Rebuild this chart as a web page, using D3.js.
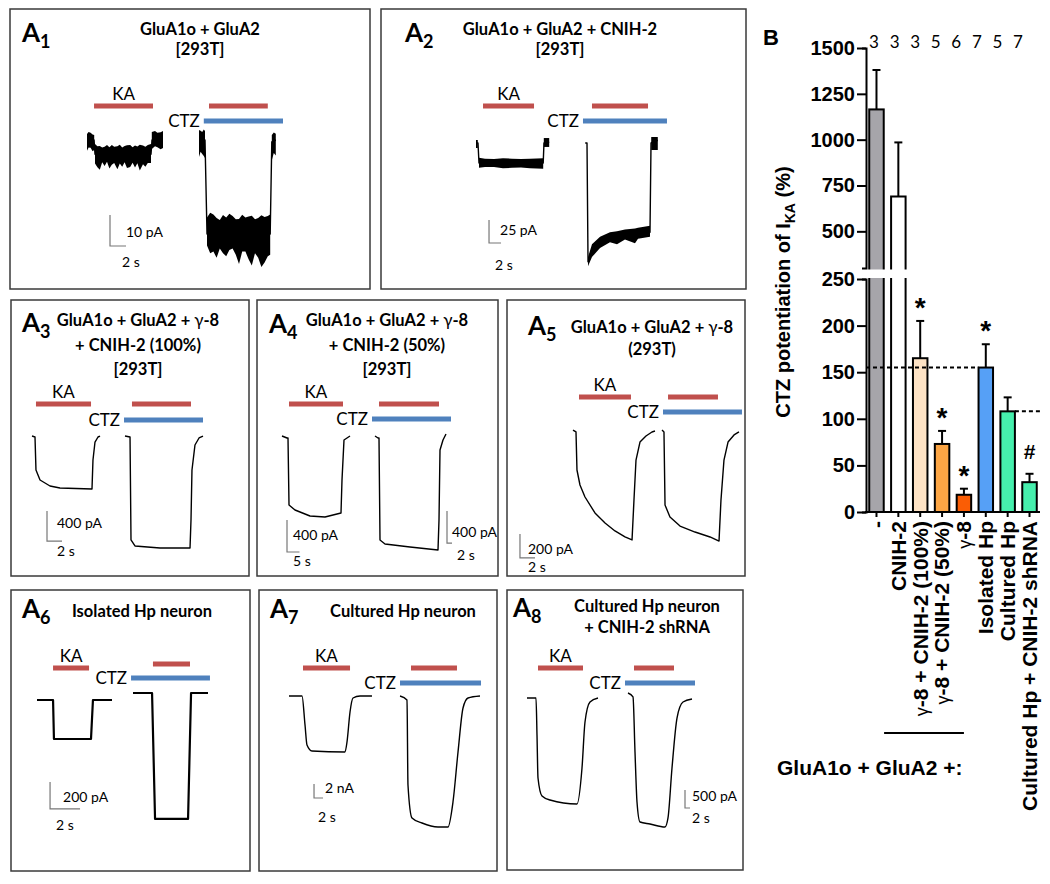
<!DOCTYPE html>
<meta charset="utf-8">
<style>
  body { margin: 0; background: #fff; }
  svg { font-family: Lato, "Open Sans", sans-serif; }
  .box { fill: none; stroke: #3a3a3a; stroke-width: 1.5; }
  .trace { fill: none; stroke: #000; stroke-width: 1.4; stroke-linejoin: round; }
  .noise { fill: #000; stroke: none; }
  .ka { stroke: #c0504d; stroke-width: 5; }
  .ctz { stroke: #4f81bd; stroke-width: 5; }
  .scalebar { fill: none; stroke: #777; stroke-width: 1.2; }
  .plabel { font-weight: bold; font-size: 26px; }
  .title { font-weight: bold; font-size: 16.5px; text-anchor: middle; }
  .drug { font-size: 17px; }
  .sblab { font-size: 14px; }
  .bchart text { font-family: "Liberation Sans", Arial, sans-serif; fill: #000; }
  .axis path, .axis line { stroke: #000; stroke-width: 2; }
  .axis text { font-size: 20px; font-weight: bold; }
</style>
<body>
<script src="https://cdn.jsdelivr.net/npm/d3@7"></script>
<script>

    // ---- panel B : CTZ potentiation (%) ----
    var groups = ["-", "CNIH-2", "γ-8 + CNIH-2 (100%)", "γ-8 + CNIH-2 (50%)", "γ-8",
                  "Isolated Hp", "Cultured Hp", "Cultured Hp + CNIH-2 shRNA"];
    var potMean = [1165, 690, 165, 73, 18.5, 155, 108, 32];
    var potSem = [215, 295, 40, 14, 6.5, 25, 15, 9];
    var nCells = [3, 3, 3, 5, 6, 7, 5, 7];
    var sigMarks = ["", "", "*", "*", "*", "*", "", "#"];
    var lowTicks = [0, 50, 100, 150, 200, 250];
    var highTicks = [500, 750, 1000, 1250, 1500];
    var barFill = ["#a6a5aa", "#ffffff", "#fee3c5", "#fca544", "#fa5d05", "#56a0f6", "#46efad", "#46efad"];

    // ---- panel A traces : [time (s), current (pA)] ----
    var a1KA = [[0,0],[0.88,0],[1.0,-4.6],[8.0,-4.6],[8.13,0],[9.5,0]];
    var a1CTZ = [[14,0],[14.75,0],[15,-30.3],[22.9,-30.3],[23.1,-0.6],[23.6,0]];
    var a1Noise = [
        [[0,-3.5,1.9],[0.2,-2.4,2.6],[0.45,-2.5,2.3],[0.7,-3.6,1.8],[0.9,-3.2,1.6]],
        [[1.0,-7.6,-1.3],[1.3,-8.8,-2.0],[1.6,-9.6,-1.9],[1.9,-7.2,-2.4],[2.2,-8.4,-2.2],[2.5,-7.0,-1.6],
         [2.8,-9.2,-2.3],[3.1,-8.0,-1.6],[3.4,-7.4,-2.2],[3.8,-9.4,-2.0],[4.1,-7.6,-1.5],[4.4,-8.6,-2.4],
         [4.7,-7.2,-1.9],[5.0,-9.0,-1.7],[5.4,-8.7,-1.6],[5.7,-7.3,-2.3],[6.0,-8.9,-1.8],[6.3,-7.5,-2.1],
         [6.6,-9.8,-1.5],[7.0,-7.8,-1.8],[7.3,-8.6,-2.2],[7.6,-7.4,-1.6],[8.0,-7.4,-1.3]],
        [[8.1,-2.9,2.6],[8.5,-2.0,2.9],[8.8,-2.3,2.3],[9.2,-3.0,2.5],[9.5,-2.6,2.9]],
        [[14,-5.5,3.2],[14.2,-3.8,3.0],[14.4,-4.5,2.6],[14.6,-5.2,3.4],[14.75,-5.8,2.9]],
        [[15,-34,-25],[15.4,-36.5,-23.5],[15.8,-36,-24],[16.2,-38,-25.2],[16.6,-35,-25.8],[17.0,-36.5,-24.2],
         [17.4,-37.5,-25],[17.8,-35.5,-23.8],[18.2,-35,-24.5],[18.6,-37,-25.6],[19.0,-40,-25.5],[19.4,-36,-24.1],
         [19.8,-36,-25],[20.2,-38.5,-24.7],[20.6,-40.5,-24.4],[21.0,-36.5,-25.6],[21.4,-38,-25.2],[21.8,-41,-24.3],
         [22.2,-39.5,-24.8],[22.6,-37.5,-24.5],[22.9,-37,-24]],
        [[23.1,-6.5,1.6],[23.35,-4.2,2.4],[23.6,-5,2]]
    ];
    var a2KA = [[0,0],[0.33,0],[0.5,-21.7],[11.2,-21.7],[11.33,0],[12.2,1]];
    var a2CTZ = [[18.2,0],[18.5,0],[18.67,-129],[19.33,-118],[20.67,-109],[22.33,-103],[24.83,-100],[29,-97],[29.17,0],[30.3,3]];
    var a2Noise = [
        [[0,-5.4,3.3],[0.3,-5.4,3.3]],
        [[0.5,-27,-16],[1.5,-26,-17],[3,-26,-17.5],[4.5,-27.5,-16.5],[6,-27,-17],[7.5,-26.5,-17.5],[9,-27.5,-17],[11.2,-28,-16.5]],
        [[11.3,-4.3,5.4],[12.2,-4.3,5.4]],
        [[18.67,-134,-124],[19.33,-124,-110],[20.67,-114,-102],[22.33,-108,-97],[23.5,-110,-96],[24.83,-105,-94],
         [26.5,-109,-93],[27,-104,-92],[29,-102,-90]],
        [[29.2,-7.6,6.5],[30.3,-7.6,6.5]]
    ];
    var a3KA = [[0,13],[0.4,0],[0.53,-440],[1.07,-573],[2.4,-653],[3.73,-680],[8.0,-693],[8.13,-307],[8.4,-67],[8.8,0],[9.07,13]];
    var a3CTZ = [[12.4,13],[13.07,0],[13.2,-1373],[13.73,-1453],[17.07,-1480],[21.07,-1480],[21.2,-1107],[21.33,-440],[21.73,-107],[22.27,-13],[22.8,13]];
    var a4KA = [[0,25],[2,0],[2.4,0],[2.8,-838],[5.2,-900],[11.2,-975],[17.2,-988],[23.6,-938],[24,-525],[24.8,-25],[27.2,25]];
    var a4CTZ = [[37.2,25],[38.4,0],[38.8,0],[39.2,-1275],[41.2,-1325],[51.2,-1363],[62.4,-1400],[62.8,-1025],[63.2,-150],[64.4,-25],[65.6,50]];
    var a5KA = [[0,8],[0.4,-8],[0.53,-325],[0.93,-450],[1.6,-550],[2.93,-683],[4.27,-767],[5.6,-833],[6.93,-883],[7.87,-908],
                [8.13,-575],[8.4,-242],[8.93,-92],[9.73,-42],[10.53,-8],[10.93,0]];
    var a5CTZ = [[11.87,8],[12.13,-8],[12.27,-617],[12.93,-717],[14.27,-792],[16.27,-842],[18.27,-883],[19.47,-917],
                 [19.73,-575],[20.13,-242],[20.67,-92],[21.47,-33],[22.13,-8]];
    var a6KA = [[0,0],[1.07,0],[1.13,-289],[3.6,-289],[3.73,0],[5.0,0]];
    var a6CTZ = [[6.4,52],[7.67,52],[7.87,-881],[10.07,-881],[10.27,52],[11.4,52]];
    var a7KA = [[0,0],[2.89,0],[3.56,-4143],[4.0,-7000],[5.11,-7857],[12.44,-8000],[12.89,-6571],[13.56,-2286],[14.22,-286],[15.78,0],[18.44,0]];
    var a7CTZ = [[24.67,0],[26.22,-571],[26.44,-12714],[27.33,-17429],[29.56,-18143],[33.11,-18714],[35.33,-18714],
                 [36.44,-15143],[37.56,-8000],[38.67,-1714],[39.78,-286],[42.44,0]];
    var a8KA = [[0,0],[3.6,0],[4.0,-1028],[4.4,-2222],[6.0,-2722],[9.2,-2833],[20.0,-2944],[22.0,-1944],[23.2,-667],[25.2,-111],[28.4,0]];
    var a8CTZ = [[40.4,139],[42.4,28],[43.2,-1500],[44.0,-2889],[45.2,-3444],[49.2,-3500],[55.2,-3583],[56.4,-3333],
                 [58.0,-1944],[60.0,-556],[62.4,-111],[66.0,-28]];

    // drug applications [start, end] (s): KA alone, KA in CTZ, CTZ
    var a1Drug = [[0.88,8.25],[15.25,22.6],[14.6,24.5]];
    var a2Drug = [[1.17,9.67],[19.33,28.67],[17.83,31.83]];
    var a3Drug = [[0.53,7.87],[13.33,21.2],[12.27,22.8]];
    var a4Drug = [[2.8,24.4],[38.8,62.8],[36,67.6]];
    var a5Drug = [[0.8,7.73],[12.67,19.33],[12,22.53]];
    var a6Drug = [[1.07,3.47],[7.73,10.2],[6.27,11.53]];
    var a7Drug = [[3.11,13.56],[27.11,37.33],[24.67,42.67]];
    var a8Drug = [[4.4,22.4],[42.8,58.8],[39.2,67.2]];

    // scale bars: [t, I, dt, dI, current label, time label]
    var a1Scale = [[2.875,-34.2,2,10,"10 pA","2 s"]];
    var a2Scale = [[2.17,-108.7,2,25,"25 pA","2 s"]];
    var a3Scale = [[2.0,-1387,2,400,"400 pA","2 s"]];
    var a4Scale = [[2.0,-1425,5,400,"400 pA","5 s"],[66,-1313,2,400,"400 pA","2 s"]];
    var a5Scale = [[-7.07,-1058,2,200,"200 pA","2 s"]];
    var a6Scale = [[0.87,-807,2,200,"200 pA","2 s"]];
    var a7Scale = [[5.56,-14571,2,2000,"2 nA","2 s"]];
    var a8Scale = [[63.2,-3056,2,500,"500 pA","2 s"]];

    var panels = [
        {sub: "1", box: [10, 9, 360, 280], letter: [22, 42], title: ["GluA1o + GluA2", "[293T]"], tx: 200, ty: [35, 55],
         x0: 87, y0: 140, pxs: 8, pxa: 3.1, kaY: 106, ctzY: 121, traces: [a1KA, a1CTZ], noise: a1Noise,
         drug: a1Drug, scale: a1Scale, sbLab: [[16, -9, 12, 21]]},
        {sub: "2", box: [381, 9, 365, 280], letter: [405, 42], title: ["GluA1o + GluA2 + CNIH-2", "[293T]"], tx: 560, ty: [35, 55],
         x0: 476, y0: 143, pxs: 6, pxa: 0.92, kaY: 106, ctzY: 121, traces: [a2KA, a2CTZ], noise: a2Noise,
         drug: a2Drug, scale: a2Scale, sbLab: [[11, -8, 6, 27]]},
        {sub: "3", box: [11, 300, 238, 276], letter: [22, 332], title: ["GluA1o + GluA2 + γ-8", "+ CNIH-2 (100%)", "[293T]"],
         tx: 138, ty: [326, 351, 375], x0: 32, y0: 437, pxs: 7.5, pxa: 0.075, kaY: 404, ctzY: 420,
         traces: [a3KA, a3CTZ], drug: a3Drug, scale: a3Scale, sbLab: [[10, -13, 10, 15]]},
        {sub: "4", box: [257, 300, 241, 276], letter: [269, 333], title: ["GluA1o + GluA2 + γ-8", "+ CNIH-2 (50%)", "[293T]"],
         tx: 387, ty: [326, 351, 375], x0: 282, y0: 438, pxs: 2.5, pxa: 0.08, kaY: 404, ctzY: 419,
         traces: [a4KA, a4CTZ], drug: a4Drug, scale: a4Scale, sbLab: [[6, -12, 6, 14], [5, -6, 10, 17]]},
        {sub: "5", box: [507, 300, 238, 276], letter: [528, 335], title: ["GluA1o + GluA2 + γ-8", "(293T)"],
         tx: 652, ty: [333, 355], x0: 573, y0: 431, pxs: 7.5, pxa: 0.12, kaY: 397, ctzY: 412,
         traces: [a5KA, a5CTZ], drug: a5Drug, scale: a5Scale, sbLab: [[8, -4, 8, 14]]},
        {sub: "6", box: [11, 590, 239, 281], letter: [22, 618], title: ["Isolated Hp neuron"], tx: 142, ty: [617],
         x0: 37, y0: 700, pxs: 15, pxa: 0.135, kaY: 668, ka2Y: 664, ctzY: 678, thick: true,
         traces: [a6KA, a6CTZ], drug: a6Drug, scale: a6Scale, sbLab: [[13, -7, 6, 21]]},
        {sub: "7", box: [259, 590, 238, 281], letter: [270, 618], title: ["Cultured Hp neuron"], tx: 403, ty: [617],
         x0: 289, y0: 696, pxs: 4.5, pxa: 0.007, kaY: 668, ctzY: 683, smooth: true,
         traces: [a7KA, a7CTZ], drug: a7Drug, scale: a7Scale, sbLab: [[11, -5, 4, 24]]},
        {sub: "8", box: [507, 590, 236, 280], letter: [513, 617], title: ["Cultured Hp neuron", "+ CNIH-2 shRNA"],
         tx: 647, ty: [612, 633], x0: 527, y0: 698, pxs: 2.5, pxa: 0.036, kaY: 668, ctzY: 683, smooth: true,
         traces: [a8KA, a8CTZ], drug: a8Drug, scale: a8Scale, sbLab: [[7, -7, 7, 15]]}
    ];

    var svg = d3.select("body").append("svg")
            .attr("width", 1050)
            .attr("height", 884);

    // put the gamma in its own thinner tspan
    function richText(sel, str, gammaSize) {
        str.split(/(γ)/).forEach(function(part) {
            if (!part) return;
            var ts = sel.append("tspan").text(part);
            if (part === "γ") ts.attr("font-weight", "normal").attr("font-size", gammaSize);
        });
    }

    panels.forEach(function(p) {
        var g = svg.append("g");

        g.append("rect").attr("class", "box")
            .attr("x", p.box[0]).attr("y", p.box[1])
            .attr("width", p.box[2]).attr("height", p.box[3]);

        var letter = g.append("text").attr("class", "plabel")
            .attr("x", p.letter[0]).attr("y", p.letter[1]);
        letter.append("tspan").text("A");
        letter.append("tspan").attr("font-size", "18px").attr("dy", 6).text(p.sub);

        p.title.forEach(function(line, k) {
            richText(g.append("text").attr("class", "title").attr("x", p.tx).attr("y", p.ty[k]), line, "17px");
        });

        var x = d3.scaleLinear().domain([0, 10]).range([p.x0, p.x0 + 10 * p.pxs]);
        var y = d3.scaleLinear().domain([0, -100]).range([p.y0, p.y0 + 100 * p.pxa]);

        // drug bars
        var d = p.drug;
        g.append("line").attr("class", "ka")
            .attr("x1", x(d[0][0])).attr("x2", x(d[0][1])).attr("y1", p.kaY).attr("y2", p.kaY);
        g.append("line").attr("class", "ka")
            .attr("x1", x(d[1][0])).attr("x2", x(d[1][1])).attr("y1", p.ka2Y || p.kaY).attr("y2", p.ka2Y || p.kaY);
        g.append("line").attr("class", "ctz")
            .attr("x1", x(d[2][0])).attr("x2", x(d[2][1])).attr("y1", p.ctzY).attr("y2", p.ctzY);
        g.append("text").attr("class", "drug")
            .attr("x", (x(d[0][0]) + x(d[0][1])) / 2).attr("y", p.kaY - 6)
            .attr("text-anchor", "middle").text("KA");
        g.append("text").attr("class", "drug")
            .attr("x", x(d[2][0]) - 4).attr("y", p.ctzY + 6)
            .attr("text-anchor", "end").text("CTZ");

        // noisy bands
        if (p.noise) {
            var area = d3.area()
                .x(function(v) { return x(v[0]); })
                .y0(function(v) { return y(v[1]); })
                .y1(function(v) { return y(v[2]); });
            g.selectAll("path.noise").data(p.noise).enter().append("path")
                .attr("class", "noise").attr("d", area);
        }

        var line = d3.line()
            .x(function(v) { return x(v[0]); })
            .y(function(v) { return y(v[1]); })
            .curve(p.smooth ? d3.curveMonotoneX : d3.curveLinear);
        g.selectAll("path.trace").data(p.traces).enter().append("path")
            .attr("class", "trace")
            .style("stroke-width", p.thick ? 2.2 : null)
            .attr("d", line);

        // scale bars
        p.scale.forEach(function(s, k) {
            var cx = x(s[0]), cy = y(s[1]);
            g.append("path").attr("class", "scalebar")
                .attr("d", "M" + cx + "," + y(s[1] + s[3]) + "V" + cy + "H" + x(s[0] + s[2]));
            var o = p.sbLab[k];
            g.append("text").attr("class", "sblab").attr("x", cx + o[0]).attr("y", cy + o[1]).text(s[4]);
            g.append("text").attr("class", "sblab").attr("x", cx + o[2]).attr("y", cy + o[3]).text(s[5]);
        });
    });

    // ---------------- panel B ----------------
    var gB = svg.append("g").attr("class", "bchart");

    var bx = d3.scaleBand().domain(d3.range(groups.length))
            .range([866, 1040]).paddingInner(0.337).paddingOuter(0.148);
    var bw = bx.bandwidth();
    var by = d3.scaleLinear().domain([0, 250, 300, 1500]).range([512, 279, 268, 48]);
    var yLow = d3.scaleLinear().domain([0, 250]).range([512, 279]);
    var yHigh = d3.scaleLinear().domain([300, 1500]).range([268, 48]);
    var nX = d3.scalePoint().domain(d3.range(groups.length)).range([874, 1018]);

    gB.append("text").attr("x", 763).attr("y", 45)
        .style("font-size", "22px").style("font-weight", "bold").text("B");

    gB.selectAll("rect.bar").data(potMean).enter().append("rect")
        .attr("class", "bar")
        .attr("x", function(v, i) { return bx(i); })
        .attr("y", function(v) { return by(v); })
        .attr("width", bw)
        .attr("height", function(v) { return 512 - by(v); })
        .attr("fill", function(v, i) { return barFill[i]; })
        .attr("stroke", "#000").attr("stroke-width", 2);

    // error bars
    var eb = gB.selectAll("g.err").data(potMean).enter().append("g").attr("class", "err");
    eb.append("line")
        .attr("x1", function(v, i) { return bx(i) + bw / 2; })
        .attr("x2", function(v, i) { return bx(i) + bw / 2; })
        .attr("y1", function(v) { return by(v); })
        .attr("y2", function(v, i) { return by(v + potSem[i]); })
        .attr("stroke", "#000").attr("stroke-width", 2);
    eb.append("line")
        .attr("x1", function(v, i) { return bx(i) + bw / 2 - 4; })
        .attr("x2", function(v, i) { return bx(i) + bw / 2 + 4; })
        .attr("y1", function(v, i) { return by(v + potSem[i]); })
        .attr("y2", function(v, i) { return by(v + potSem[i]); })
        .attr("stroke", "#000").attr("stroke-width", 2);

    // axis break
    gB.append("rect").attr("x", 867).attr("y", 269.5).attr("width", 50).attr("height", 8.5).attr("fill", "#fff");

    // dashed reference lines at the hippocampal values
    gB.append("line")
        .attr("x1", 866).attr("x2", bx(5))
        .attr("y1", by(potMean[5])).attr("y2", by(potMean[5]))
        .attr("stroke", "#000").attr("stroke-width", 2).attr("stroke-dasharray", "4,3");
    gB.append("line")
        .attr("x1", bx(6) + bw).attr("x2", 1040)
        .attr("y1", by(potMean[6])).attr("y2", by(potMean[6]))
        .attr("stroke", "#000").attr("stroke-width", 2).attr("stroke-dasharray", "4,3");

    gB.append("g").attr("class", "axis").attr("transform", "translate(866,0)")
        .call(d3.axisLeft(yLow).tickValues(lowTicks).tickFormat(d3.format("d"))
            .tickSize(9).tickSizeOuter(4).tickPadding(2));
    gB.append("g").attr("class", "axis").attr("transform", "translate(866,0)")
        .call(d3.axisLeft(yHigh).tickValues(highTicks).tickFormat(d3.format("d"))
            .tickSize(9).tickSizeOuter(4).tickPadding(2));
    gB.append("path").attr("d", "M865,512H1040").attr("stroke", "#000").attr("stroke-width", 2);
    gB.selectAll("line.xt").data(groups).enter().append("line").attr("class", "xt")
        .attr("x1", function(v, i) { return bx(i) + bw / 2; })
        .attr("x2", function(v, i) { return bx(i) + bw / 2; })
        .attr("y1", 512).attr("y2", 517)
        .attr("stroke", "#000").attr("stroke-width", 2);

    // significance marks
    gB.selectAll("text.sig").data(sigMarks).enter().append("text").attr("class", "sig")
        .attr("x", function(v, i) { return bx(i) + bw / 2; })
        .attr("y", function(v, i) { return by(potMean[i] + potSem[i]) - (v === "#" ? 15 : 4); })
        .attr("text-anchor", "middle")
        .style("font-weight", "bold")
        .style("font-size", function(v) { return v === "#" ? "21px" : "28px"; })
        .text(function(v) { return v; });

    // n per group
    gB.selectAll("text.n").data(nCells).enter().append("text").attr("class", "n")
        .attr("x", function(v, i) { return nX(i); })
        .attr("y", 48).attr("text-anchor", "middle")
        .style("font-family", "Lato, sans-serif").style("font-size", "17px")
        .text(function(v) { return v; });

    // y title
    var yt = gB.append("text")
        .attr("transform", "translate(790,292) rotate(-90)")
        .attr("text-anchor", "middle")
        .style("font-size", "20px").style("font-weight", "bold");
    yt.append("tspan").text("CTZ potentiation of I");
    yt.append("tspan").attr("dy", 5).style("font-size", "14px").text("KA");
    yt.append("tspan").attr("dy", -5).text(" (%)");

    // rotated group labels
    groups.forEach(function(name, i) {
        var t = gB.append("text")
            .attr("transform", "translate(" + (bx(i) + bw / 2) + ",521) rotate(-90)")
            .attr("text-anchor", "end").attr("dy", "0.35em")
            .style("font-size", "21px").style("font-weight", "bold");
        richText(t, name, "18px");
    });

    gB.append("line").attr("x1", bx(1) - 7).attr("x2", bx(4) + bw / 2)
        .attr("y1", 733).attr("y2", 733).attr("stroke", "#000").attr("stroke-width", 2);
    gB.append("text").attr("x", 777).attr("y", 775)
        .style("font-size", "21px").style("font-weight", "bold").text("GluA1o + GluA2 +:");

</script>
